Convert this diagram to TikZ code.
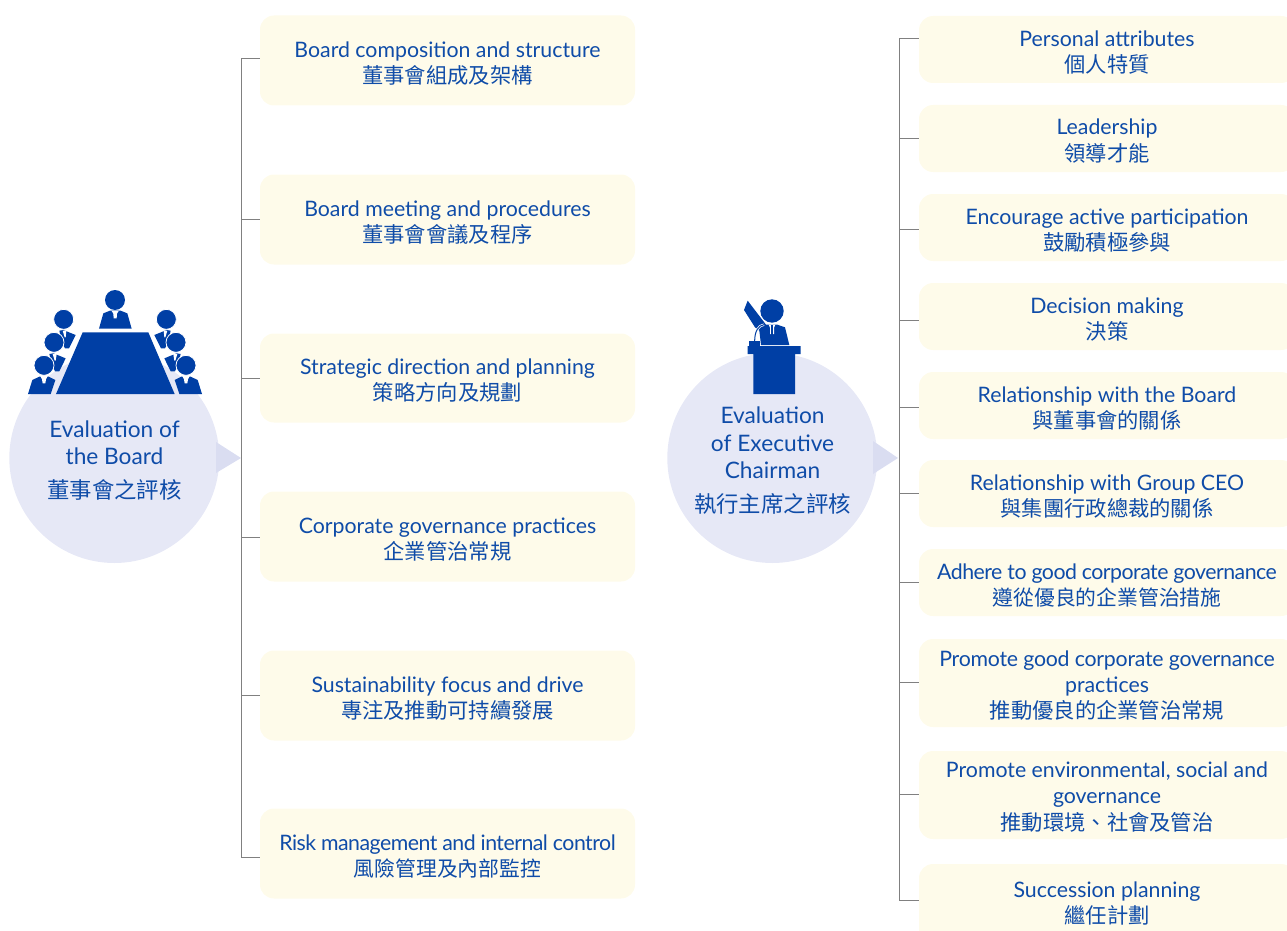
\documentclass[tikz,border=0pt]{standalone}
\usepackage{fontspec}
\setmainfont{Lato}
\newfontfamily\cjk{Noto Sans CJK TC}
\newcommand{\zh}[1]{{\cjk #1}}
\newcommand{\zht}[1]{{\cjk\fontsize{20.8}{26.2}\selectfont #1}}
\newcommand{\zhc}[1]{{\cjk\fontsize{22.4}{27.5}\selectfont #1}}
\newcommand{\tight}[1]{{\addfontfeature{LetterSpace=-2.4}#1}}
\newcommand{\tighter}[1]{{\addfontfeature{LetterSpace=-1.1}#1}}
\definecolor{ibl}{HTML}{003FA5}
\definecolor{txt}{HTML}{0F4CA8}
\definecolor{circ}{HTML}{E6E8F6}
\definecolor{tri}{HTML}{DADDF1}
\definecolor{boxc}{HTML}{FEFBEA}
\definecolor{ln}{HTML}{808080}
\tikzset{
  item/.style={fill=boxc,rounded corners=14pt,inner sep=0pt,anchor=center},
  itemtxt/.style={inner sep=0pt,text=txt,align=center,anchor=center,
     font=\fontsize{21.3}{26.2}\selectfont},
  evalc/.style={circle,fill=circ,inner sep=0pt,minimum size=210pt},
  evaltxt/.style={text=txt,align=center,inner sep=0pt,font=\fontsize{22.7}{27.5}\selectfont},
  trunk/.style={draw=ln,line width=1pt},
  iconb/.style={fill=ibl,draw=none},
  halo/.style={fill=ibl,draw=white,line width=0.8pt},
  tiew/.style={fill=white,draw=none},
}
% box: name, x centre, y centre, width, height, text y, text
\newcommand{\bx}[7]{%
  \node[item,minimum width=#4pt,minimum height=#5pt] (#1) at (#2,#3) {};
  \node[itemtxt] (#1t) at (#2,#6) {#7};
}
% left half of the meeting icon, in 3x zoom coordinates
\newcommand{\sidepeople}{%
  % back person
  \path[iconb] (178,152)--(190,150)--(227,165)--(207,205)--(195,205)--(185,185)--cycle;
  \path[tiew] (188,152)--(199,152)--(197,172)--(194,172)--cycle;
  \path[halo] (191,118) circle[radius=10pt];
  % middle person
  \path[iconb] (148,222)--(160,220)--(197,235)--(178,274)--(165,274)--(155,250)--cycle;
  \path[tiew] (158,222)--(170,222)--(167,242)--(164,242)--cycle;
  \path[halo] (162,187) circle[radius=10pt];
  % front person
  \path[iconb] (84,342)--(97,300)--(118,290)--(146,290)--(166,300)--(152,342)--cycle;
  \path[tiew] (121,288)--(143,288)--(138,298)--(136,310)--(128,310)--(126,298)--cycle;
  \path[halo] (132,256) circle[radius=10pt];
}
\begin{document}
\begin{tikzpicture}[x=1pt,y=-1pt]
\useasboundingbox (0,0) rectangle (1287,931);
\clip (0,0) rectangle (1287,931);
% trunk anchors
\coordinate (lt) at (241,58.5);
\coordinate (lb) at (241,857);
\coordinate (rt) at (899,38.5);
\coordinate (rb) at (899,900);
% boxes, left
\bx{b1}{447.5}{60.5}{375}{90}{63.5}{Board composition and structure\\\zh{董事會組成及架構}}
\bx{b2}{447.5}{219.5}{375}{90}{222.2}{Board meeting and procedures\\\zh{董事會會議及程序}}
\bx{b3}{447.5}{378}{375}{89}{380.8}{Strategic direction and planning\\\zh{策略方向及規劃}}
\bx{b4}{447.5}{536.5}{375}{90}{539.5}{Corporate governance practices\\\zh{企業管治常規}}
\bx{b5}{447.5}{695.5}{375}{90}{698.2}{Sustainability focus and drive\\\zh{專注及推動可持續發展}}
\bx{b6}{447.5}{853.5}{375}{90}{856.5}{\tight{Risk management and internal control}\\\zht{風險管理及內部監控}}
% boxes, right
\bx{r1}{1107}{49.5}{376}{67}{52.4}{Personal attributes\\\zh{個人特質}}
\bx{r2}{1107}{138.5}{376}{67}{141}{Leadership\\\zh{領導才能}}
\bx{r3}{1107}{227.5}{376}{67}{230.2}{Encourage active participation\\\zh{鼓勵積極參與}}
\bx{r4}{1107}{316.5}{376}{67}{319.6}{Decision making\\\zh{決策}}
\bx{r5}{1107}{405.5}{376}{67}{408.2}{Relationship with the Board\\\zh{與董事會的關係}}
\bx{r6}{1107}{493.5}{376}{67}{496.7}{Relationship with Group CEO\\\zh{與集團行政總裁的關係}}
\bx{r7}{1107}{582.5}{376}{67}{585.7}{\tight{Adhere to good corporate governance}\\\zht{遵從優良的企業管治措施}}
\bx{r8}{1107}{683}{376}{88}{685.7}{\tighter{Promote good corporate governance}\\practices\\\zh{推動優良的企業管治常規}}
\bx{r9}{1107}{795}{376}{88}{797}{Promote environmental, social and\\governance\\\zh{推動環境、社會及管治}}
\bx{r10}{1107}{908}{376}{88}{903.5}{Succession planning\\\zh{繼任計劃}}
% connectors
\draw[trunk] (b1.west |- lt) -- (lt) -- (lb) -- (b6.west |- lb);
\foreach \n/\y in {b2/219,b3/378,b4/537,b5/695}{\draw[trunk] (241,\y) -- (\n.west |- 241,\y);}
\draw[trunk] (r1.west |- rt) -- (rt) -- (rb) -- (r10.west |- rb);
\foreach \n/\y in {r2/139,r3/229,r4/320,r5/407,r6/493,r7/582,r8/682,r9/794}{\draw[trunk] (899,\y) -- (\n.west |- 899,\y);}
% left evaluation
\node[evalc] (el) at (114.3,458) {};
\path[fill=tri] (216,442)--(241,458)--(216,473)--cycle;
\node[evaltxt] (eltxt) at (114.5,460.6) {Evaluation of\\the Board\\[6.5pt]\zhc{董事會之評核}};
% meeting icon
\begin{scope}[shift={(0,280)},x=0.33333pt,y=-0.33333pt]
  \path[iconb] (248,157)--(445,157)--(524,342)--(168,342)--cycle;
  \path[iconb] (297,146)--(310,100)--(330,92)--(362,92)--(382,100)--(395,146)--cycle;
  \path[tiew] (335,93)--(356,93)--(351,101)--(350,115)--(341,115)--(340,101)--cycle;
  \path[iconb] (345,60) circle[radius=10pt];
  \sidepeople
\end{scope}
\begin{scope}[shift={(230,280)},x=-0.33333pt,y=-0.33333pt]
  \sidepeople
\end{scope}
% right evaluation
\node[evalc] (er) at (772.3,458) {};
\path[fill=tri] (873,441)--(898,458)--(873,474)--cycle;
\node[evaltxt] (ertxt) at (772.5,460.6) {Evaluation\\of Executive\\Chairman\\[6.5pt]\zhc{執行主席之評核}};
% speaker icon
\begin{scope}[shift={(660,290)},x=0.33333pt,y=-0.33333pt]
  \path[iconb] (252,60)--(263,32)--(318,104)--(352,104)--(375,112)--(388,165)--(303,165)--(298,122)--(285,112)--cycle;
  \path[tiew] (326,104)--(346,104)--(342,113)--(342,132)--(330,132)--(330,113)--cycle;
  \path[iconb] (333,104)--(339,104)--(339,134)--(333,134)--cycle;
  \draw[white,line width=2.4pt] (312,104) .. controls (295,106) and (284,124) .. (284,153);
  \draw[ibl,line width=1pt] (312,104) .. controls (295,106) and (284,124) .. (284,153);
  \path[iconb] (336,63) circle[radius=11.7pt];
  \path[iconb] (268,153)--(300,153)--(300,168)--(268,168)--cycle;
  \path[iconb] (263,168)--(422,168)--(422,192)--(405,192)--(405,312)--(280,312)--(280,192)--(263,192)--cycle;
\end{scope}
\end{tikzpicture}
\end{document}
